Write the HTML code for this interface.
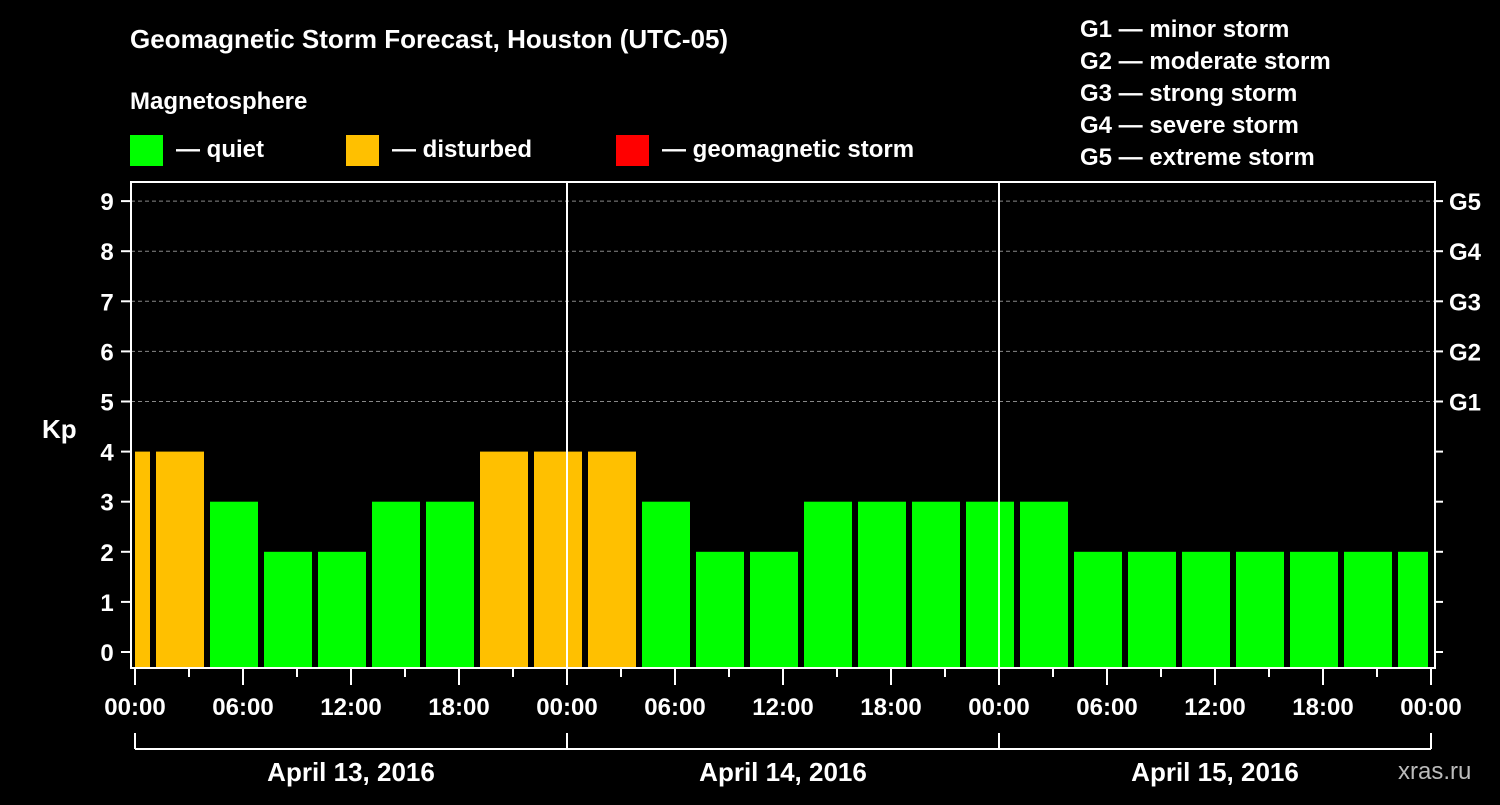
<!DOCTYPE html>
<html><head><meta charset="utf-8"><style>
body{margin:0;background:#000;width:1500px;height:800px;overflow:hidden}
svg text{font-family:"Liberation Sans",Arial,sans-serif;font-weight:bold;fill:#fff}
</style></head><body>
<svg width="1500" height="800" id="chart">
<text x="130" y="48" font-size="26">Geomagnetic Storm Forecast, Houston (UTC-05)</text>
<text x="130" y="109" font-size="24">Magnetosphere</text>
<rect x="130" y="135" width="33" height="31" fill="#00ff00"/>
<text x="176" y="157" font-size="24">— quiet</text>
<rect x="346" y="135" width="33" height="31" fill="#ffc000"/>
<text x="392" y="157" font-size="24">— disturbed</text>
<rect x="616" y="135" width="33" height="31" fill="#ff0000"/>
<text x="662" y="157" font-size="24">— geomagnetic storm</text>
<g font-size="24">
<text x="1080" y="37">G1 — minor storm</text>
<text x="1080" y="69">G2 — moderate storm</text>
<text x="1080" y="101">G3 — strong storm</text>
<text x="1080" y="133">G4 — severe storm</text>
<text x="1080" y="165">G5 — extreme storm</text>
</g>
<text x="42" y="438" font-size="26">Kp</text>
<text x="1398" y="779" font-size="24" fill="#bbb" style="fill:#bbb;font-weight:normal">xras.ru</text>
<g id="plot"></g>
</svg>
<script>
const kpValues=[4,4,3,2,2,3,3,4,4,4,3,2,2,3,3,3,3,3,2,2,2,2,2,2,2];
const hourTicks=["00:00","06:00","12:00","18:00","00:00","06:00","12:00","18:00","00:00","06:00","12:00","18:00","00:00"];
const dayLabels=["April 13, 2016","April 14, 2016","April 15, 2016"];
const gLabels=["G1","G2","G3","G4","G5"];
const NS="http://www.w3.org/2000/svg";
const g=document.getElementById('plot');
const L=131,R=1435,T=182,B=668,X0=135,PXH=18;
const xh=h=>X0+h*PXH;
const yk=k=>652-k*50.1;
function el(t,a){const e=document.createElementNS(NS,t);for(const k in a)e.setAttribute(k,a[k]);g.appendChild(e);return e;}
// grid
for(let k=5;k<=9;k++){const e=el('line',{x1:L,x2:R,y1:yk(k),y2:yk(k),stroke:'#888','stroke-dasharray':'4,3','stroke-width':1});

}
// bars
kpValues.forEach((v,i)=>{const s=-2+3*i;let x1=xh(s)+3,x2=xh(s+3)-3;x1=Math.max(x1,X0);x2=Math.min(x2,xh(72)-3);
const c=v>=5?'#ff0000':(v>=4?'#ffc000':'#00ff00');
const r=el('rect',{x:x1,y:yk(v),width:x2-x1,height:B-yk(v),fill:c});

});
// frame
const f=el('rect',{x:L,y:T,width:R-L,height:B-T,fill:'none',stroke:'#fff','stroke-width':2});


[24,48].forEach(h=>{const e=el('line',{x1:xh(h),x2:xh(h),y1:T,y2:B,stroke:'#fff','stroke-width':2});

});
// y ticks
for(let k=0;k<=9;k++){el('line',{x1:L-10,x2:L,y1:yk(k),y2:yk(k),stroke:'#fff','stroke-width':2});
const t=el('text',{x:107,y:yk(k)+9,'font-size':24,'text-anchor':'middle'});t.textContent=k;


el('line',{x1:R,x2:R+8,y1:yk(k),y2:yk(k),stroke:'#fff','stroke-width':2});}
gLabels.forEach((s,i)=>{const t=el('text',{x:1449,y:yk(5+i)+9,'font-size':24});t.textContent=s;

});
// x ticks
for(let h=0;h<=72;h+=3){const major=h%6===0;el('line',{x1:xh(h),x2:xh(h),y1:B,y2:B+(major?17:9),stroke:'#fff','stroke-width':2});}
hourTicks.forEach((s,i)=>{const t=el('text',{x:xh(i*6),y:715,'font-size':24,'text-anchor':'middle'});t.textContent=s;

});
el('line',{x1:X0,x2:xh(72),y1:749,y2:749,stroke:'#fff','stroke-width':2});
for(let d=0;d<=3;d++)el('line',{x1:xh(d*24),x2:xh(d*24),y1:733,y2:749,stroke:'#fff','stroke-width':2});
dayLabels.forEach((s,i)=>{const t=el('text',{x:xh(i*24+12),y:781,'font-size':26,'text-anchor':'middle'});t.textContent=s;

});
</script>
</body></html>
